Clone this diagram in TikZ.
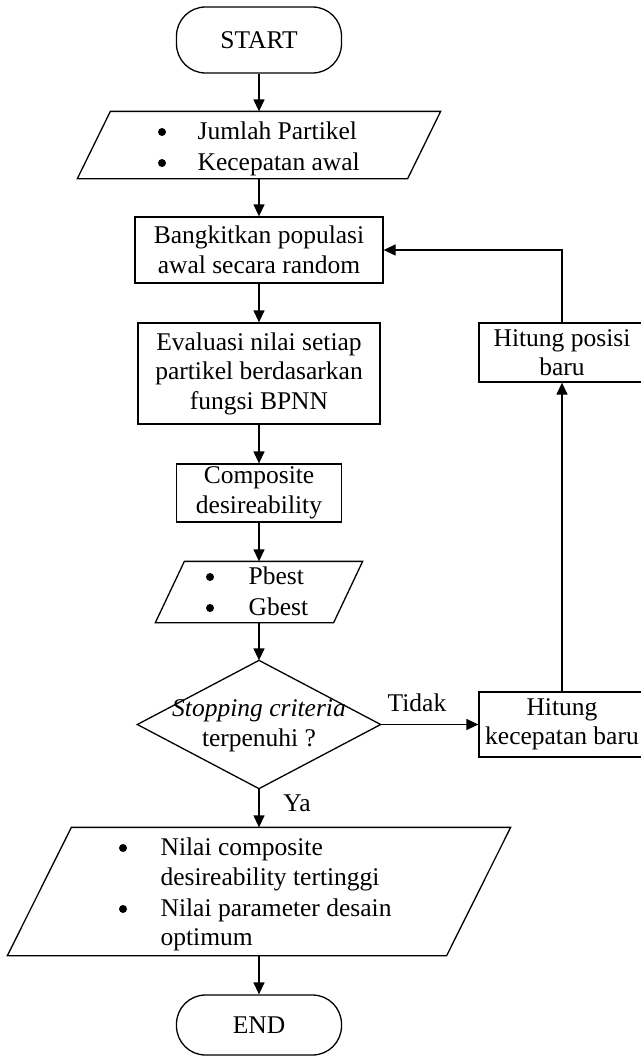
\documentclass[tikz,border=0pt]{standalone}
\usepackage{fontspec}
\setmainfont{Liberation Serif}
\usetikzlibrary{arrows.meta}
\begin{document}
\begin{tikzpicture}[x=1pt,y=-1pt,
  font=\fontsize{25.5}{29.5}\selectfont,
  line width=1.3pt,
  box/.style={draw, rectangle, inner sep=0pt, align=center},
  frame/.style={rectangle, inner sep=0pt},
  term/.style={draw, rectangle, rounded corners=29pt, inner sep=0pt},
  flow/.style={-{Triangle[length=12pt,width=11pt]}},
  item/.style={inner sep=0pt, anchor=base west},
  dot/.style={circle, fill, draw=none, inner sep=0pt, minimum size=8pt},
  txt/.style={inner sep=0pt, align=center}
]
\useasboundingbox (0,0) rectangle (640,1057);

% terminators
\node[term, minimum width=165pt, minimum height=66pt] (start) at (259,40) {START};
\node[term, minimum width=165pt, minimum height=60pt] (end) at (259,1025) {END};

% input: particle settings
\node[frame, minimum width=362pt, minimum height=66pt] (in1) at (259,145) {};
\draw ([xshift=33pt]in1.north west) -- (in1.north east)
  -- ([xshift=-33pt]in1.south east) -- (in1.south west) -- cycle;
\node[dot] (b11) at (162,132) {};
\node[item] (t11) at (197,139) {Jumlah Partikel};
\node[dot] (b12) at (162,163) {};
\node[item] (t12) at (197,170) {Kecepatan awal};

% process boxes
\node[box, minimum width=248pt, minimum height=66pt] (gen) at (259,250)
  {Bangkitkan populasi\\awal secara random};
\node[box, minimum width=242pt, minimum height=101pt] (eval) at (259,373.5)
  {Evaluasi nilai setiap\\partikel berdasarkan\\fungsi BPNN};
\node[box, minimum width=165pt, minimum height=58pt] (comp) at (259,493)
  {Composite\\desireability};

% Pbest / Gbest
\node[frame, minimum width=206pt, minimum height=60pt] (best) at (259,592) {};
\draw ([xshift=29pt]best.north west) -- (best.north east)
  -- ([xshift=-29pt]best.south east) -- (best.south west) -- cycle;
\node[dot] (b21) at (210,577) {};
\node[item] (t21) at (248,584) {Pbest};
\node[dot] (b22) at (210,608) {};
\node[item] (t22) at (248,615) {Gbest};

% decision
\node[frame, minimum width=242pt, minimum height=127pt] (dec) at (259,724.5) {};
\draw (dec.north) -- (dec.east) -- (dec.south) -- (dec.west) -- cycle;
\node[txt] (dect) at (259,726) {\textit{Stopping criteria}\\terpenuhi ?};

% update loop
\node[box, minimum width=166pt, minimum height=65pt] (vel) at (562,724.5)
  {Hitung\\kecepatan baru};
\node[box, minimum width=166pt, minimum height=59pt] (pos) at (562,352.5)
  {Hitung posisi\\baru};

% output
\node[frame, minimum width=502pt, minimum height=127pt] (out) at (259,891.5) {};
\draw ([xshift=64pt]out.north west) -- (out.north east)
  -- ([xshift=-64pt]out.south east) -- (out.south west) -- cycle;
\node[dot] (b31) at (123,848) {};
\node[item] (t31) at (160,855) {Nilai composite};
\node[item] (t32) at (160,885) {desireability tertinggi};
\node[dot] (b32) at (123,909) {};
\node[item] (t33) at (160,916) {Nilai parameter desain};
\node[item] (t34) at (160,945) {optimum};

% branch labels
\node[txt] (no) at (417,703) {Tidak};
\node[txt] (yes) at (297,803) {Ya};

% connectors
\draw[flow] (start.south) -- (in1.north);
\draw[flow] (in1.south) -- (gen.north);
\draw[flow] (gen.south) -- (eval.north);
\draw[flow] (eval.south) -- (comp.north);
\draw[flow] (comp.south) -- (best.north);
\draw[flow] (best.south) -- (dec.north);
\draw[flow] (dec.east) -- (vel.west);
\draw[flow] (vel.north) -- (pos.south);
\draw[flow] (pos.north) |- (gen.east);
\draw[flow] (dec.south) -- (out.north);
\draw[flow] (out.south) -- (end.north);
\end{tikzpicture}
\end{document}
